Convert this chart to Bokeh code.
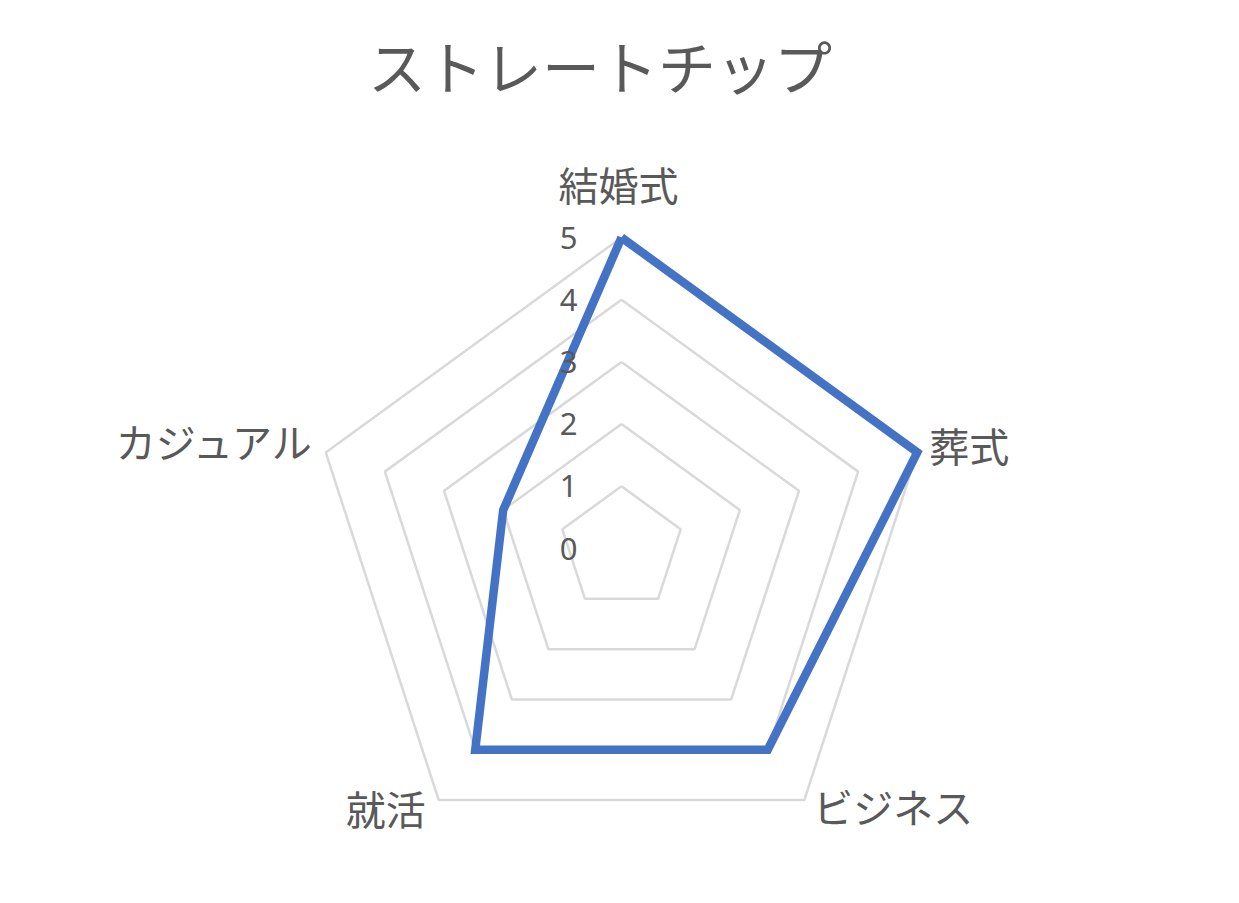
import numpy as np
from bokeh.plotting import figure
from bokeh.models import ColumnDataSource, Range1d
from bokeh.core.properties import value
from bokeh.embed import file_html
from bokeh.resources import INLINE

title_text = "ストレートチップ"
categories = ["結婚式", "葬式", "ビジネス", "就活", "カジュアル"]
values = [5, 5, 4, 4, 2]
ring_levels = [1, 2, 3, 4, 5]
tick_labels = ["0", "1", "2", "3", "4", "5"]

# layout (pixels)
W, H = 1223, 887
unit = 62.2  # pixels per value unit
cx_px, cy_px = 621, 548

n = len(categories)
angles = np.deg2rad(90 - 72 * np.arange(n))

p = figure(width=W, height=H, output_backend="svg", toolbar_location=None,
           x_range=Range1d(-cx_px / unit, (W - cx_px) / unit),
           y_range=Range1d(-(H - cy_px) / unit, cy_px / unit),
           min_border=0)
p.axis.visible = False
p.grid.visible = False
p.outline_line_color = None
p.background_fill_color = "white"
p.border_fill_color = "white"

# grid rings
gx, gy = [], []
for r in ring_levels:
    xs = list(r * np.cos(angles)) + [r * np.cos(angles[0])]
    ys = list(r * np.sin(angles)) + [r * np.sin(angles[0])]
    gx.append(xs)
    gy.append(ys)
p.multi_line(gx, gy, line_color="#d9d9d9", line_width=2.5)

# data polygon
vals = np.array(values, dtype=float)
dx = list(vals * np.cos(angles)) + [vals[0] * np.cos(angles[0])]
dy = list(vals * np.sin(angles)) + [vals[0] * np.sin(angles[0])]
p.line(dx, dy, line_color="#4472C4", line_width=8.5, line_join="miter")

# tick labels
tick_src = ColumnDataSource(dict(x=[0.0] * len(tick_labels),
                                 y=[float(t) for t in tick_labels],
                                 t=tick_labels))
p.text(x="x", y="y", text="t", source=tick_src, text_font=value("Noto Sans"),
       text_font_size="31px", text_color="#595959", text_align="right",
       text_baseline="middle", x_offset=-44)

# category labels
rmax = max(ring_levels)
lab_src = ColumnDataSource(dict(
    x=list(rmax * np.cos(angles)),
    y=list(rmax * np.sin(angles)),
    t=categories,
    align=["center", "left", "left", "right", "right"],
    xo=[-3, 12, 9, -13, -10],
    yo=[-54, -7, 6, 8, -11],
))
p.text(x="x", y="y", text="t", source=lab_src, text_font=value("Noto Sans CJK JP"),
       text_font_size="40px", text_color="#595959", text_align="align",
       text_baseline="middle", x_offset="xo", y_offset="yo")

# title
p.text(x=[(599.5 - cx_px) / unit], y=[(cy_px - 64) / unit], text=[title_text],
       text_font=value("Noto Sans CJK JP"), text_font_size="58px",
       text_color="#595959", text_align="center", text_baseline="middle")

open("out.html", "w").write(file_html(p, INLINE))
